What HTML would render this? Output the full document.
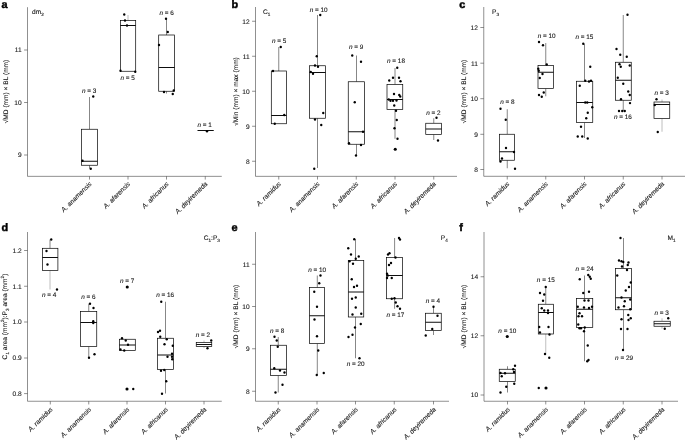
<!DOCTYPE html>
<html lang="en"><head><meta charset="utf-8"><title>Figure</title>
<style>html,body{margin:0;padding:0;background:#fff;}body{width:685px;height:440px;overflow:hidden;}svg{display:block;will-change:transform;text-rendering:geometricPrecision;}text{font-family:"Liberation Sans",Arial,Helvetica,sans-serif;fill:#1a1a1a;stroke:#1a1a1a;stroke-width:0.12px;}.n{font-size:6.4px;text-anchor:middle;}.tk{font-size:6.6px;text-anchor:end;}.xl{font-size:6.6px;font-style:italic;text-anchor:end;}.yl{font-size:6.6px;text-anchor:middle;}.tt{font-size:6.6px;}.pl{font-size:10.9px;font-weight:bold;fill:#000;stroke:#000;stroke-width:0.45px;}.ax{stroke:#333;stroke-width:0.55;fill:none;}.bx{stroke:#000;stroke-width:0.7;fill:#fff;}.md{stroke:#000;stroke-width:0.95;fill:none;}.wk{stroke:#222;stroke-width:0.55;fill:none;}.wl{stroke:#8a8a8a;stroke-width:0.55;fill:none;}.pt{fill:#000;}</style></head><body>
<svg width="685" height="440" viewBox="0 0 685 440">
<g>
<path class="ax" d="M27.5 7.2V176.35H221.75"/>
<path class="ax" d="M27.5 50h-3.4M27.5 102.5h-3.4M27.5 155h-3.4M89.5 176.35v3.2M128 176.35v3.2M166.5 176.35v3.2M205.25 176.35v3.2"/>
<text class="tk" x="21.7" y="52.35">11</text>
<text class="tk" x="21.7" y="104.85">10</text>
<text class="tk" x="21.7" y="157.35">9</text>
<text class="xl" transform="translate(92.1 184.3) rotate(-45)" x="0" y="0">A. anamensis</text>
<text class="xl" transform="translate(130.6 184.3) rotate(-45)" x="0" y="0">A. afarensis</text>
<text class="xl" transform="translate(169.1 184.3) rotate(-45)" x="0" y="0">A. africanus</text>
<text class="xl" transform="translate(207.85 184.3) rotate(-45)" x="0" y="0">A. deyiremeda</text>
<text class="yl" transform="translate(8.2 91.5) rotate(-90)" x="0" y="0">√MD (mm) × BL (mm)</text>
<text class="tt" text-anchor="start" x="32" y="13.6">dm<tspan font-size="4.6" dy="2.2">2</tspan></text>
<text class="pl" x="1.6" y="7.6">a</text>
<path class="wk" d="M89.5 97V129.25"/>
<path class="wk" d="M89.5 165.25V168.5"/>
<rect class="bx" x="81.5" y="129.25" width="16" height="36"/>
<path class="md" d="M81.5 161.25H97.5"/>
<path class="wl" d="M128 15V20.5"/>
<rect class="bx" x="120.4" y="20.5" width="15.3" height="50.75"/>
<path class="md" d="M120.4 25.5H135.7"/>
<path class="wk" d="M166.5 18.75V35"/>
<path class="wk" d="M166.5 91.25V93.5"/>
<rect class="bx" x="158.7" y="35" width="15.9" height="56.25"/>
<path class="md" d="M158.7 67.5H174.6"/>
<path class="md" d="M197.5 130.5H213.75"/>
<circle class="pt" cx="93.25" cy="96.5" r="1.18"/>
<circle class="pt" cx="82.5" cy="160.75" r="1.18"/>
<circle class="pt" cx="90.75" cy="168.75" r="1.18"/>
<circle class="pt" cx="124.25" cy="14.5" r="1.18"/>
<circle class="pt" cx="125" cy="20.5" r="1.18"/>
<circle class="pt" cx="127" cy="25.5" r="1.18"/>
<circle class="pt" cx="120.5" cy="70.75" r="1.18"/>
<circle class="pt" cx="135.25" cy="71.75" r="1.18"/>
<circle class="pt" cx="166" cy="18.75" r="1.18"/>
<circle class="pt" cx="167.75" cy="32" r="1.18"/>
<circle class="pt" cx="159" cy="45" r="1.18"/>
<circle class="pt" cx="164" cy="92" r="1.18"/>
<circle class="pt" cx="173.75" cy="90.5" r="1.18"/>
<circle class="pt" cx="172.75" cy="94" r="1.18"/>
<circle class="pt" cx="207" cy="131.25" r="1.18"/>
<text class="n" x="89.2" y="92.8"><tspan font-style="italic">n</tspan> = 3</text>
<text class="n" x="127.7" y="80"><tspan font-style="italic">n</tspan> = 5</text>
<text class="n" x="166.7" y="14.5"><tspan font-style="italic">n</tspan> = 6</text>
<text class="n" x="204.7" y="126.5"><tspan font-style="italic">n</tspan> = 1</text>
</g>
<g>
<path class="ax" d="M255.5 7V176.35H457"/>
<path class="ax" d="M255.5 21.25h-3.4M255.5 56.25h-3.4M255.5 91.25h-3.4M255.5 126.25h-3.4M255.5 161.25h-3.4M278.75 176.35v3.2M317.5 176.35v3.2M356.25 176.35v3.2M395 176.35v3.2M433.75 176.35v3.2"/>
<text class="tk" x="249.7" y="23.6">12</text>
<text class="tk" x="249.7" y="58.6">11</text>
<text class="tk" x="249.7" y="93.6">10</text>
<text class="tk" x="249.7" y="128.6">9</text>
<text class="tk" x="249.7" y="163.6">8</text>
<text class="xl" transform="translate(281.35 184.3) rotate(-45)" x="0" y="0">A. ramidus</text>
<text class="xl" transform="translate(320.1 184.3) rotate(-45)" x="0" y="0">A. anamensis</text>
<text class="xl" transform="translate(358.85 184.3) rotate(-45)" x="0" y="0">A. afarensis</text>
<text class="xl" transform="translate(397.6 184.3) rotate(-45)" x="0" y="0">A. africanus</text>
<text class="xl" transform="translate(436.35 184.3) rotate(-45)" x="0" y="0">A. deyiremeda</text>
<text class="yl" transform="translate(237.6 91.5) rotate(-90)" x="0" y="0">√Min (mm) × max (mm)</text>
<text class="tt" text-anchor="start" x="263" y="13.6">C<tspan font-size="4.6" dy="2.2">1</tspan></text>
<text class="pl" x="231.5" y="7.6">b</text>
<path class="wk" d="M278.75 47V71"/>
<rect class="bx" x="271.3" y="71" width="15.1" height="52.75"/>
<path class="md" d="M271.3 115.5H286.4"/>
<path class="wk" d="M317.5 15V65.75"/>
<path class="wk" d="M317.5 118.25V168"/>
<rect class="bx" x="309.5" y="65.75" width="16" height="52.5"/>
<path class="md" d="M309.5 72.5H325.5"/>
<path class="wk" d="M356.5 55.5V81.75"/>
<path class="wk" d="M356.5 144.25V155.5"/>
<rect class="bx" x="348.25" y="81.75" width="16.25" height="62.5"/>
<path class="md" d="M348.25 131.75H364.5"/>
<path class="wk" d="M395 68V84.5"/>
<path class="wk" d="M395 109.5V138.75"/>
<rect class="bx" x="387" y="84.5" width="15.75" height="25"/>
<path class="md" d="M387 99.5H402.75"/>
<path class="wk" d="M433.75 118.25V123.25"/>
<path class="wk" d="M433.75 134.5V140"/>
<rect class="bx" x="425.75" y="123.25" width="15.75" height="11.25"/>
<path class="md" d="M425.75 129H441.5"/>
<circle class="pt" cx="280.75" cy="47" r="1.18"/>
<circle class="pt" cx="273" cy="71" r="1.18"/>
<circle class="pt" cx="284.25" cy="115" r="1.18"/>
<circle class="pt" cx="274.75" cy="123.75" r="1.18"/>
<circle class="pt" cx="320.25" cy="15" r="1.18"/>
<circle class="pt" cx="316.75" cy="56.25" r="1.18"/>
<circle class="pt" cx="315" cy="65.5" r="1.18"/>
<circle class="pt" cx="318" cy="66.75" r="1.18"/>
<circle class="pt" cx="310.75" cy="72" r="1.18"/>
<circle class="pt" cx="313" cy="73.75" r="1.18"/>
<circle class="pt" cx="323.25" cy="113" r="1.18"/>
<circle class="pt" cx="315" cy="119.5" r="1.18"/>
<circle class="pt" cx="321.25" cy="125" r="1.18"/>
<circle class="pt" cx="314.25" cy="168.75" r="1.18"/>
<circle class="pt" cx="352.25" cy="55.5" r="1.18"/>
<circle class="pt" cx="361" cy="61.75" r="1.18"/>
<circle class="pt" cx="354.75" cy="102.25" r="1.18"/>
<circle class="pt" cx="363" cy="131.75" r="1.18"/>
<circle class="pt" cx="349" cy="143.25" r="1.18"/>
<circle class="pt" cx="361" cy="145" r="1.18"/>
<circle class="pt" cx="356" cy="155.5" r="1.18"/>
<circle class="pt" cx="397.25" cy="67.75" r="1.18"/>
<circle class="pt" cx="393" cy="77.75" r="1.18"/>
<circle class="pt" cx="399" cy="77.75" r="1.18"/>
<circle class="pt" cx="389.25" cy="80.5" r="1.18"/>
<circle class="pt" cx="400.5" cy="81.25" r="1.18"/>
<circle class="pt" cx="394" cy="94" r="1.18"/>
<circle class="pt" cx="399.25" cy="95" r="1.18"/>
<circle class="pt" cx="400.25" cy="96.5" r="1.18"/>
<circle class="pt" cx="388.75" cy="99.5" r="1.18"/>
<circle class="pt" cx="390.5" cy="100.75" r="1.18"/>
<circle class="pt" cx="393" cy="100.75" r="1.18"/>
<circle class="pt" cx="396.5" cy="100.5" r="1.18"/>
<circle class="pt" cx="394.25" cy="105.5" r="1.18"/>
<circle class="pt" cx="396" cy="110.75" r="1.18"/>
<circle class="pt" cx="396.75" cy="120" r="1.18"/>
<circle class="pt" cx="394.5" cy="128.25" r="1.18"/>
<circle class="pt" cx="397.5" cy="138.75" r="1.18"/>
<circle class="pt" cx="436.5" cy="117.75" r="1.18"/>
<circle class="pt" cx="438" cy="140.5" r="1.18"/>
<circle class="pt" cx="395.25" cy="149.25" r="1.55"/>
<text class="n" x="279.2" y="42.8"><tspan font-style="italic">n</tspan> = 5</text>
<text class="n" x="318.7" y="12.3"><tspan font-style="italic">n</tspan> = 10</text>
<text class="n" x="356.2" y="49.3"><tspan font-style="italic">n</tspan> = 9</text>
<text class="n" x="396" y="63"><tspan font-style="italic">n</tspan> = 18</text>
<text class="n" x="433.45" y="114.8"><tspan font-style="italic">n</tspan> = 2</text>
</g>
<g>
<path class="ax" d="M483.75 7V176.3H685.5"/>
<path class="ax" d="M483.75 27.5h-3.4M483.75 63.2h-3.4M483.75 98.7h-3.4M483.75 134.3h-3.4M483.75 169.5h-3.4M507.25 176.3v3.2M545.75 176.3v3.2M584.5 176.3v3.2M623.25 176.3v3.2M662 176.3v3.2"/>
<text class="tk" x="477.95" y="29.85">12</text>
<text class="tk" x="477.95" y="65.55">11</text>
<text class="tk" x="477.95" y="101.05">10</text>
<text class="tk" x="477.95" y="136.65">9</text>
<text class="tk" x="477.95" y="171.85">8</text>
<text class="xl" transform="translate(509.85 184.3) rotate(-45)" x="0" y="0">A. ramidus</text>
<text class="xl" transform="translate(548.35 184.3) rotate(-45)" x="0" y="0">A. anamensis</text>
<text class="xl" transform="translate(587.1 184.3) rotate(-45)" x="0" y="0">A. afarensis</text>
<text class="xl" transform="translate(625.85 184.3) rotate(-45)" x="0" y="0">A. africanus</text>
<text class="xl" transform="translate(664.6 184.3) rotate(-45)" x="0" y="0">A. deyiremeda</text>
<text class="yl" transform="translate(466.3 91.5) rotate(-90)" x="0" y="0">√MD (mm) × BL (mm)</text>
<text class="tt" text-anchor="start" x="492" y="13.8">P<tspan font-size="4.6" dy="2.2">3</tspan></text>
<text class="pl" x="459.3" y="8">c</text>
<path class="wk" d="M507.25 109.25V134.25"/>
<path class="wk" d="M507.25 160.25V168.25"/>
<rect class="bx" x="499.5" y="134.25" width="15.1" height="26"/>
<path class="md" d="M499.5 151.75H514.6"/>
<path class="wk" d="M545.75 43V65.5"/>
<path class="wk" d="M545.75 88.5V96.25"/>
<rect class="bx" x="538" y="65.5" width="15.5" height="23"/>
<path class="md" d="M538 72.25H553.5"/>
<path class="wk" d="M584.5 43.75V81.25"/>
<path class="wk" d="M584.5 122.5V138"/>
<rect class="bx" x="576.5" y="81.25" width="16.25" height="41.25"/>
<path class="md" d="M576.5 102.5H592.75"/>
<path class="wk" d="M623.25 15V62.25"/>
<path class="wk" d="M623.25 100.25V111.25"/>
<rect class="bx" x="615.5" y="62.25" width="15.75" height="38"/>
<path class="md" d="M615.5 80.25H631.25"/>
<path class="wl" d="M662 99.5V102"/>
<path class="wl" d="M662 118.5V131.75"/>
<rect class="bx" x="654" y="102" width="15.75" height="16.5"/>
<path class="md" d="M654 104.5H669.75"/>
<circle class="pt" cx="500.5" cy="108.75" r="1.18"/>
<circle class="pt" cx="505.75" cy="119.75" r="1.18"/>
<circle class="pt" cx="506" cy="148" r="1.18"/>
<circle class="pt" cx="514" cy="152" r="1.18"/>
<circle class="pt" cx="502" cy="158.5" r="1.18"/>
<circle class="pt" cx="500.5" cy="161.5" r="1.18"/>
<circle class="pt" cx="515" cy="168.75" r="1.18"/>
<circle class="pt" cx="539" cy="42" r="1.18"/>
<circle class="pt" cx="543" cy="45.25" r="1.18"/>
<circle class="pt" cx="546.75" cy="64.5" r="1.18"/>
<circle class="pt" cx="538.25" cy="68.75" r="1.18"/>
<circle class="pt" cx="538.75" cy="70.75" r="1.18"/>
<circle class="pt" cx="542.5" cy="74" r="1.18"/>
<circle class="pt" cx="539.75" cy="78" r="1.18"/>
<circle class="pt" cx="543.75" cy="92.5" r="1.18"/>
<circle class="pt" cx="539" cy="95" r="1.18"/>
<circle class="pt" cx="541.75" cy="96.75" r="1.18"/>
<circle class="pt" cx="583.25" cy="43.75" r="1.18"/>
<circle class="pt" cx="590.25" cy="66.75" r="1.18"/>
<circle class="pt" cx="585.25" cy="80.75" r="1.18"/>
<circle class="pt" cx="589" cy="81.5" r="1.18"/>
<circle class="pt" cx="591" cy="80.75" r="1.18"/>
<circle class="pt" cx="579.75" cy="85.75" r="1.18"/>
<circle class="pt" cx="585.25" cy="102.5" r="1.18"/>
<circle class="pt" cx="587.25" cy="102.5" r="1.18"/>
<circle class="pt" cx="592.25" cy="107.25" r="1.18"/>
<circle class="pt" cx="587.75" cy="112.75" r="1.18"/>
<circle class="pt" cx="586.25" cy="118.25" r="1.18"/>
<circle class="pt" cx="581" cy="126.75" r="1.18"/>
<circle class="pt" cx="577.75" cy="136.5" r="1.18"/>
<circle class="pt" cx="582.25" cy="136.5" r="1.18"/>
<circle class="pt" cx="587.75" cy="138.5" r="1.18"/>
<circle class="pt" cx="627.5" cy="14.75" r="1.18"/>
<circle class="pt" cx="616.5" cy="49" r="1.18"/>
<circle class="pt" cx="620.25" cy="54.75" r="1.18"/>
<circle class="pt" cx="626.75" cy="56.75" r="1.18"/>
<circle class="pt" cx="619.5" cy="64.25" r="1.18"/>
<circle class="pt" cx="620.75" cy="66.75" r="1.18"/>
<circle class="pt" cx="629.75" cy="65.5" r="1.18"/>
<circle class="pt" cx="617.75" cy="77.75" r="1.18"/>
<circle class="pt" cx="623.25" cy="83.75" r="1.18"/>
<circle class="pt" cx="628.25" cy="91.5" r="1.18"/>
<circle class="pt" cx="629.75" cy="95" r="1.18"/>
<circle class="pt" cx="621" cy="99.25" r="1.18"/>
<circle class="pt" cx="630" cy="103.1" r="1.18"/>
<circle class="pt" cx="619" cy="111" r="1.18"/>
<circle class="pt" cx="622.25" cy="111" r="1.18"/>
<circle class="pt" cx="624.75" cy="111" r="1.18"/>
<circle class="pt" cx="656.5" cy="99.25" r="1.18"/>
<circle class="pt" cx="654.75" cy="105" r="1.18"/>
<circle class="pt" cx="657.75" cy="132" r="1.18"/>
<text class="n" x="507.45" y="104.3"><tspan font-style="italic">n</tspan> = 8</text>
<text class="n" x="546.7" y="37.8"><tspan font-style="italic">n</tspan> = 10</text>
<text class="n" x="584.45" y="39"><tspan font-style="italic">n</tspan> = 15</text>
<text class="n" x="622.95" y="119.3"><tspan font-style="italic">n</tspan> = 16</text>
<text class="n" x="661.7" y="95.3"><tspan font-style="italic">n</tspan> = 3</text>
</g>
<g>
<path class="ax" d="M27.5 232V401.25H221.75"/>
<path class="ax" d="M27.5 250.5h-3.4M27.5 286.25h-3.4M27.5 322h-3.4M27.5 358h-3.4M27.5 393.6h-3.4M50.3 401.25v3.2M88.75 401.25v3.2M127 401.25v3.2M165.5 401.25v3.2M204 401.25v3.2"/>
<text class="tk" x="21.7" y="252.85">1.2</text>
<text class="tk" x="21.7" y="288.6">1.1</text>
<text class="tk" x="21.7" y="324.35">1.0</text>
<text class="tk" x="21.7" y="360.35">0.9</text>
<text class="tk" x="21.7" y="395.95">0.8</text>
<text class="xl" transform="translate(53.15 409.8) rotate(-45)" x="0" y="0">A. ramidus</text>
<text class="xl" transform="translate(91.6 409.8) rotate(-45)" x="0" y="0">A. anamensis</text>
<text class="xl" transform="translate(129.85 409.8) rotate(-45)" x="0" y="0">A. afarensis</text>
<text class="xl" transform="translate(168.35 409.8) rotate(-45)" x="0" y="0">A. africanus</text>
<text class="xl" transform="translate(206.85 409.8) rotate(-45)" x="0" y="0">A. deyiremeda</text>
<text class="yl" transform="translate(7 316.5) rotate(-90)" x="0" y="0">C<tspan font-size="4.6" dy="2.2">1</tspan><tspan dy="-2.2"> area (mm</tspan><tspan font-size="4.6" dy="-2.7">2</tspan><tspan dy="2.7">):P</tspan><tspan font-size="4.6" dy="2.2">3</tspan><tspan dy="-2.2"> area (mm</tspan><tspan font-size="4.6" dy="-2.7">2</tspan><tspan dy="2.7">)</tspan></text>
<text class="tt" text-anchor="end" x="219.9" y="239.8">C<tspan font-size="4.6" dy="2.2">1</tspan><tspan dy="-2.2">:P</tspan><tspan font-size="4.6" dy="2.2">3</tspan></text>
<text class="pl" x="1.6" y="231.3">d</text>
<path class="wk" d="M50 239.5V248.3"/>
<path class="wl" d="M50 270.5V289.5"/>
<rect class="bx" x="42.4" y="248.3" width="15.5" height="22.2"/>
<path class="md" d="M42.4 257.5H57.9"/>
<path class="wk" d="M88.75 303.75V311.5"/>
<path class="wk" d="M88.75 346.5V357.5"/>
<rect class="bx" x="80.5" y="311.5" width="16.25" height="35"/>
<path class="md" d="M80.5 322.5H96.75"/>
<rect class="bx" x="119.4" y="339.25" width="15.9" height="11.25"/>
<path class="md" d="M119.4 345H135.3"/>
<path class="wk" d="M165.5 301.75V338.25"/>
<path class="wk" d="M165.5 369.5V393.5"/>
<rect class="bx" x="157.5" y="338.25" width="16" height="31.25"/>
<path class="md" d="M157.5 355H173.5"/>
<path class="wl" d="M204 340.5V342.5"/>
<path class="wl" d="M204 346.5V348"/>
<rect class="bx" x="196.25" y="342.5" width="15.5" height="4"/>
<path class="md" d="M196.25 344.5H211.75"/>
<circle class="pt" cx="51.25" cy="239.5" r="1.18"/>
<circle class="pt" cx="46.5" cy="251" r="1.18"/>
<circle class="pt" cx="47.5" cy="264.5" r="1.18"/>
<circle class="pt" cx="57" cy="289.5" r="1.18"/>
<circle class="pt" cx="90" cy="303.75" r="1.18"/>
<circle class="pt" cx="93.5" cy="308" r="1.18"/>
<circle class="pt" cx="93.25" cy="321.25" r="1.18"/>
<circle class="pt" cx="93.25" cy="323" r="1.18"/>
<circle class="pt" cx="89" cy="357.75" r="1.18"/>
<circle class="pt" cx="94.5" cy="354.25" r="1.18"/>
<circle class="pt" cx="122" cy="338.25" r="1.18"/>
<circle class="pt" cx="125.75" cy="340.5" r="1.18"/>
<circle class="pt" cx="128" cy="344.75" r="1.18"/>
<circle class="pt" cx="120.5" cy="349.5" r="1.18"/>
<circle class="pt" cx="124.25" cy="350.5" r="1.18"/>
<circle class="pt" cx="133.25" cy="389" r="1.18"/>
<circle class="pt" cx="161.25" cy="301.75" r="1.18"/>
<circle class="pt" cx="158" cy="332" r="1.18"/>
<circle class="pt" cx="160" cy="330.75" r="1.18"/>
<circle class="pt" cx="160.25" cy="336.75" r="1.18"/>
<circle class="pt" cx="166.75" cy="339.25" r="1.18"/>
<circle class="pt" cx="164.5" cy="344.25" r="1.18"/>
<circle class="pt" cx="172.75" cy="345.75" r="1.18"/>
<circle class="pt" cx="172" cy="353.75" r="1.18"/>
<circle class="pt" cx="167.5" cy="356.75" r="1.18"/>
<circle class="pt" cx="172" cy="356.75" r="1.18"/>
<circle class="pt" cx="172.25" cy="359.25" r="1.18"/>
<circle class="pt" cx="161" cy="370.75" r="1.18"/>
<circle class="pt" cx="164.25" cy="370" r="1.18"/>
<circle class="pt" cx="166.25" cy="381.25" r="1.18"/>
<circle class="pt" cx="162" cy="393.75" r="1.18"/>
<circle class="pt" cx="211.25" cy="340.5" r="1.18"/>
<circle class="pt" cx="207.5" cy="348.25" r="1.18"/>
<circle class="pt" cx="127.25" cy="287" r="1.55"/>
<circle class="pt" cx="127" cy="389" r="1.55"/>
<text class="n" x="49.2" y="297.3"><tspan font-style="italic">n</tspan> = 4</text>
<text class="n" x="88.45" y="299.3"><tspan font-style="italic">n</tspan> = 6</text>
<text class="n" x="127.2" y="282.8"><tspan font-style="italic">n</tspan> = 7</text>
<text class="n" x="165.2" y="296.5"><tspan font-style="italic">n</tspan> = 16</text>
<text class="n" x="202.95" y="337.3"><tspan font-style="italic">n</tspan> = 2</text>
</g>
<g>
<path class="ax" d="M255.5 232V401.25H449"/>
<path class="ax" d="M255.5 264.25h-3.4M255.5 306.5h-3.4M255.5 348.75h-3.4M255.5 391.25h-3.4M278.25 401.25v3.2M317 401.25v3.2M355.5 401.25v3.2M394.25 401.25v3.2M433.5 401.25v3.2"/>
<text class="tk" x="249.7" y="266.6">11</text>
<text class="tk" x="249.7" y="308.85">10</text>
<text class="tk" x="249.7" y="351.1">9</text>
<text class="tk" x="249.7" y="393.6">8</text>
<text class="xl" transform="translate(281.1 409.8) rotate(-45)" x="0" y="0">A. ramidus</text>
<text class="xl" transform="translate(319.85 409.8) rotate(-45)" x="0" y="0">A. anamensis</text>
<text class="xl" transform="translate(358.35 409.8) rotate(-45)" x="0" y="0">A. afarensis</text>
<text class="xl" transform="translate(397.1 409.8) rotate(-45)" x="0" y="0">A. africanus</text>
<text class="xl" transform="translate(436.35 409.8) rotate(-45)" x="0" y="0">A. deyiremeda</text>
<text class="yl" transform="translate(237.6 316.5) rotate(-90)" x="0" y="0">√MD (mm) × BL (mm)</text>
<text class="tt" text-anchor="end" x="447.8" y="239.8">P<tspan font-size="4.6" dy="2.2">4</tspan></text>
<text class="pl" x="231.5" y="231.3">e</text>
<path class="wk" d="M278.25 337V345.25"/>
<path class="wk" d="M278.25 375.5V392.5"/>
<rect class="bx" x="270.5" y="345.25" width="16" height="30.25"/>
<path class="md" d="M270.5 369.25H286.5"/>
<path class="wk" d="M317.3 275.5V287.5"/>
<path class="wk" d="M317.3 343.5V375"/>
<rect class="bx" x="309.5" y="287.5" width="15.1" height="56"/>
<path class="md" d="M309.5 315.75H324.6"/>
<path class="wk" d="M355.5 239.25V260.5"/>
<path class="wk" d="M355.5 317V358.25"/>
<rect class="bx" x="348.3" y="260.5" width="15.45" height="56.5"/>
<path class="md" d="M348.3 292H363.75"/>
<path class="wk" d="M394.6 238V257.5"/>
<path class="wk" d="M394.6 298.75V308.75"/>
<rect class="bx" x="386.5" y="257.5" width="16" height="41.25"/>
<path class="md" d="M386.5 275.5H402.5"/>
<path class="wk" d="M433.5 306.75V313.25"/>
<path class="wk" d="M433.5 330.5V335"/>
<rect class="bx" x="425.5" y="313.25" width="15.75" height="17.25"/>
<path class="md" d="M425.5 322.25H441.25"/>
<circle class="pt" cx="274.5" cy="336.75" r="1.18"/>
<circle class="pt" cx="276.75" cy="340.5" r="1.18"/>
<circle class="pt" cx="277.75" cy="346.75" r="1.18"/>
<circle class="pt" cx="274.25" cy="368.25" r="1.18"/>
<circle class="pt" cx="280" cy="370.5" r="1.18"/>
<circle class="pt" cx="284.5" cy="372.5" r="1.18"/>
<circle class="pt" cx="282.5" cy="384.75" r="1.18"/>
<circle class="pt" cx="275.5" cy="392.5" r="1.18"/>
<circle class="pt" cx="320.5" cy="275.5" r="1.18"/>
<circle class="pt" cx="319.25" cy="283.25" r="1.18"/>
<circle class="pt" cx="314.25" cy="291.75" r="1.18"/>
<circle class="pt" cx="317" cy="306.75" r="1.18"/>
<circle class="pt" cx="314.5" cy="319.5" r="1.18"/>
<circle class="pt" cx="317" cy="336.25" r="1.18"/>
<circle class="pt" cx="318.25" cy="350.5" r="1.18"/>
<circle class="pt" cx="316.75" cy="375" r="1.18"/>
<circle class="pt" cx="323.75" cy="373" r="1.18"/>
<circle class="pt" cx="354.25" cy="239.25" r="1.18"/>
<circle class="pt" cx="348.25" cy="248.25" r="1.18"/>
<circle class="pt" cx="351" cy="254.5" r="1.18"/>
<circle class="pt" cx="358.75" cy="256.5" r="1.18"/>
<circle class="pt" cx="355.75" cy="258.75" r="1.18"/>
<circle class="pt" cx="349.5" cy="261.25" r="1.18"/>
<circle class="pt" cx="353" cy="263.75" r="1.18"/>
<circle class="pt" cx="351.75" cy="279.25" r="1.18"/>
<circle class="pt" cx="357" cy="285.75" r="1.18"/>
<circle class="pt" cx="354" cy="287" r="1.18"/>
<circle class="pt" cx="352" cy="298.75" r="1.18"/>
<circle class="pt" cx="355.75" cy="297.5" r="1.18"/>
<circle class="pt" cx="355.75" cy="307.5" r="1.18"/>
<circle class="pt" cx="352.5" cy="314.5" r="1.18"/>
<circle class="pt" cx="361.25" cy="313.75" r="1.18"/>
<circle class="pt" cx="360.75" cy="324" r="1.18"/>
<circle class="pt" cx="355" cy="327.5" r="1.18"/>
<circle class="pt" cx="352.5" cy="334.75" r="1.18"/>
<circle class="pt" cx="348.5" cy="337" r="1.18"/>
<circle class="pt" cx="359.5" cy="358.25" r="1.18"/>
<circle class="pt" cx="399" cy="238" r="1.18"/>
<circle class="pt" cx="400" cy="239.5" r="1.18"/>
<circle class="pt" cx="388" cy="254.5" r="1.18"/>
<circle class="pt" cx="389.5" cy="253.25" r="1.18"/>
<circle class="pt" cx="395.5" cy="257.5" r="1.18"/>
<circle class="pt" cx="391" cy="263" r="1.18"/>
<circle class="pt" cx="389" cy="265" r="1.18"/>
<circle class="pt" cx="387" cy="273.75" r="1.18"/>
<circle class="pt" cx="387.75" cy="275.5" r="1.18"/>
<circle class="pt" cx="387" cy="278" r="1.18"/>
<circle class="pt" cx="391.75" cy="278" r="1.18"/>
<circle class="pt" cx="391.75" cy="298.75" r="1.18"/>
<circle class="pt" cx="394.5" cy="298.25" r="1.18"/>
<circle class="pt" cx="395.75" cy="302.5" r="1.18"/>
<circle class="pt" cx="397.5" cy="306.25" r="1.18"/>
<circle class="pt" cx="400" cy="308.75" r="1.18"/>
<circle class="pt" cx="433.5" cy="306.75" r="1.18"/>
<circle class="pt" cx="437.5" cy="315.75" r="1.18"/>
<circle class="pt" cx="432.25" cy="329" r="1.18"/>
<circle class="pt" cx="425.75" cy="335.5" r="1.18"/>
<text class="n" x="277.2" y="333"><tspan font-style="italic">n</tspan> = 8</text>
<text class="n" x="317.2" y="271.5"><tspan font-style="italic">n</tspan> = 10</text>
<text class="n" x="355.7" y="366"><tspan font-style="italic">n</tspan> = 20</text>
<text class="n" x="395.45" y="317.3"><tspan font-style="italic">n</tspan> = 17</text>
<text class="n" x="432.95" y="303"><tspan font-style="italic">n</tspan> = 4</text>
</g>
<g>
<path class="ax" d="M484 232V401.25H678"/>
<path class="ax" d="M484 276.75h-3.4M484 335.75h-3.4M484 395h-3.4M507.5 401.25v3.2M545.75 401.25v3.2M584.5 401.25v3.2M623.25 401.25v3.2M662 401.25v3.2"/>
<text class="tk" x="478.2" y="279.1">14</text>
<text class="tk" x="478.2" y="338.1">12</text>
<text class="tk" x="478.2" y="397.35">10</text>
<text class="xl" transform="translate(510.35 409.8) rotate(-45)" x="0" y="0">A. ramidus</text>
<text class="xl" transform="translate(548.6 409.8) rotate(-45)" x="0" y="0">A. anamensis</text>
<text class="xl" transform="translate(587.35 409.8) rotate(-45)" x="0" y="0">A. afarensis</text>
<text class="xl" transform="translate(626.1 409.8) rotate(-45)" x="0" y="0">A. africanus</text>
<text class="xl" transform="translate(664.85 409.8) rotate(-45)" x="0" y="0">A. deyiremeda</text>
<text class="yl" transform="translate(466.3 316.5) rotate(-90)" x="0" y="0">√MD (mm) × BL (mm)</text>
<text class="tt" text-anchor="end" x="675.5" y="239.8">M<tspan font-size="4.6" dy="2.2">1</tspan></text>
<text class="pl" x="459.3" y="231.3">f</text>
<path class="wk" d="M507.5 366.25V369.25"/>
<path class="wk" d="M507.5 381.5V392.5"/>
<rect class="bx" x="499.25" y="369.25" width="16" height="12.25"/>
<path class="md" d="M499.25 373.25H515.25"/>
<path class="wk" d="M545.75 287V304.25"/>
<path class="wl" d="M545.75 334V354.5"/>
<rect class="bx" x="538.3" y="304.25" width="15.2" height="29.75"/>
<path class="md" d="M538.3 312.5H553.5"/>
<path class="wk" d="M584.5 275.5V298.5"/>
<path class="wk" d="M584.5 327.5V361.25"/>
<rect class="bx" x="576.5" y="298.5" width="16.25" height="29"/>
<path class="md" d="M576.5 309.25H592.75"/>
<path class="wk" d="M623.5 238V268.5"/>
<path class="wk" d="M623.5 309.75V350"/>
<rect class="bx" x="615.5" y="268.5" width="16" height="41.25"/>
<path class="md" d="M615.5 297.75H631.5"/>
<path class="wl" d="M662 318.25V321.25"/>
<path class="wl" d="M662 326.25V328.75"/>
<rect class="bx" x="654" y="321.25" width="16.25" height="5"/>
<path class="md" d="M654 323.75H670.25"/>
<circle class="pt" cx="515" cy="365.75" r="1.18"/>
<circle class="pt" cx="513.25" cy="369.25" r="1.18"/>
<circle class="pt" cx="514" cy="372" r="1.18"/>
<circle class="pt" cx="500.5" cy="373" r="1.18"/>
<circle class="pt" cx="505" cy="373.25" r="1.18"/>
<circle class="pt" cx="501.75" cy="376.25" r="1.18"/>
<circle class="pt" cx="514.25" cy="383.75" r="1.18"/>
<circle class="pt" cx="506.25" cy="386.75" r="1.18"/>
<circle class="pt" cx="500.5" cy="392.5" r="1.18"/>
<circle class="pt" cx="545.75" cy="287" r="1.18"/>
<circle class="pt" cx="540" cy="293" r="1.18"/>
<circle class="pt" cx="544.25" cy="294.5" r="1.18"/>
<circle class="pt" cx="543" cy="300.75" r="1.18"/>
<circle class="pt" cx="541.75" cy="308.25" r="1.18"/>
<circle class="pt" cx="544.25" cy="310.5" r="1.18"/>
<circle class="pt" cx="548" cy="310.5" r="1.18"/>
<circle class="pt" cx="548" cy="313" r="1.18"/>
<circle class="pt" cx="539.25" cy="327" r="1.18"/>
<circle class="pt" cx="548.5" cy="327" r="1.18"/>
<circle class="pt" cx="540" cy="332.5" r="1.18"/>
<circle class="pt" cx="549.5" cy="334.5" r="1.18"/>
<circle class="pt" cx="545" cy="354" r="1.18"/>
<circle class="pt" cx="549.25" cy="357.75" r="1.18"/>
<circle class="pt" cx="538.75" cy="388" r="1.18"/>
<circle class="pt" cx="588.25" cy="275" r="1.18"/>
<circle class="pt" cx="589.75" cy="276.75" r="1.18"/>
<circle class="pt" cx="579.75" cy="279.25" r="1.18"/>
<circle class="pt" cx="590.75" cy="278.75" r="1.18"/>
<circle class="pt" cx="589" cy="291.75" r="1.18"/>
<circle class="pt" cx="583.25" cy="293" r="1.18"/>
<circle class="pt" cx="584.5" cy="300.5" r="1.18"/>
<circle class="pt" cx="588.5" cy="300.5" r="1.18"/>
<circle class="pt" cx="577.75" cy="306.75" r="1.18"/>
<circle class="pt" cx="584" cy="307.5" r="1.18"/>
<circle class="pt" cx="589" cy="308" r="1.18"/>
<circle class="pt" cx="592" cy="306.75" r="1.18"/>
<circle class="pt" cx="579.5" cy="313.25" r="1.18"/>
<circle class="pt" cx="578.5" cy="316.25" r="1.18"/>
<circle class="pt" cx="582" cy="316.25" r="1.18"/>
<circle class="pt" cx="578.25" cy="324.5" r="1.18"/>
<circle class="pt" cx="579.5" cy="328.25" r="1.18"/>
<circle class="pt" cx="581" cy="328.25" r="1.18"/>
<circle class="pt" cx="584.75" cy="327.5" r="1.18"/>
<circle class="pt" cx="584" cy="331.25" r="1.18"/>
<circle class="pt" cx="587.75" cy="345.5" r="1.18"/>
<circle class="pt" cx="588.5" cy="360" r="1.18"/>
<circle class="pt" cx="587.25" cy="361.25" r="1.18"/>
<circle class="pt" cx="620.5" cy="238" r="1.18"/>
<circle class="pt" cx="619" cy="260.5" r="1.18"/>
<circle class="pt" cx="621.5" cy="261.25" r="1.18"/>
<circle class="pt" cx="623.25" cy="262" r="1.18"/>
<circle class="pt" cx="628.5" cy="262.5" r="1.18"/>
<circle class="pt" cx="627.75" cy="265" r="1.18"/>
<circle class="pt" cx="622" cy="266.5" r="1.18"/>
<circle class="pt" cx="627" cy="270" r="1.18"/>
<circle class="pt" cx="617.25" cy="275.5" r="1.18"/>
<circle class="pt" cx="630.75" cy="282.5" r="1.18"/>
<circle class="pt" cx="629" cy="287" r="1.18"/>
<circle class="pt" cx="625.75" cy="290.5" r="1.18"/>
<circle class="pt" cx="621.5" cy="297.5" r="1.18"/>
<circle class="pt" cx="630.25" cy="299.5" r="1.18"/>
<circle class="pt" cx="624.75" cy="301.25" r="1.18"/>
<circle class="pt" cx="624" cy="306.25" r="1.18"/>
<circle class="pt" cx="618.5" cy="307.5" r="1.18"/>
<circle class="pt" cx="630.25" cy="309.25" r="1.18"/>
<circle class="pt" cx="628.25" cy="315" r="1.18"/>
<circle class="pt" cx="630.75" cy="318.25" r="1.18"/>
<circle class="pt" cx="621.5" cy="319.25" r="1.18"/>
<circle class="pt" cx="628.5" cy="320" r="1.18"/>
<circle class="pt" cx="621" cy="329" r="1.18"/>
<circle class="pt" cx="627.5" cy="329" r="1.18"/>
<circle class="pt" cx="623" cy="350" r="1.18"/>
<circle class="pt" cx="668.25" cy="318.25" r="1.18"/>
<circle class="pt" cx="664.75" cy="328.75" r="1.18"/>
<circle class="pt" cx="507.25" cy="336.5" r="1.55"/>
<circle class="pt" cx="546" cy="388" r="1.55"/>
<text class="n" x="507.3" y="332.8"><tspan font-style="italic">n</tspan> = 10</text>
<text class="n" x="545.8" y="282.3"><tspan font-style="italic">n</tspan> = 15</text>
<text class="n" x="584.6" y="271"><tspan font-style="italic">n</tspan> = 24</text>
<text class="n" x="624.1" y="359.8"><tspan font-style="italic">n</tspan> = 29</text>
<text class="n" x="661.7" y="315.3"><tspan font-style="italic">n</tspan> = 3</text>
</g>
</svg></body></html>
